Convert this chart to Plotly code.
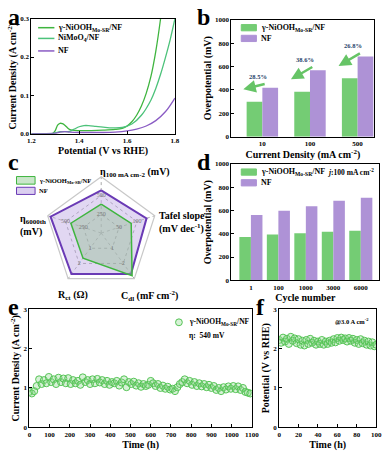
import plotly.graph_objects as go

# ---- panel a: LSV curves ----
lsv_gamma_x = [1.20, 1.25, 1.29, 1.30, 1.31, 1.32, 1.33, 1.34, 1.35, 1.36, 1.37, 1.40, 1.45, 1.50,
               1.55, 1.58, 1.60, 1.62, 1.64, 1.66, 1.68, 1.70, 1.71, 1.72, 1.73, 1.74]
lsv_gamma_y = [0.000, 0.000, 0.001, 0.008, 0.022, 0.027, 0.026, 0.022, 0.016, 0.011, 0.009, 0.008, 0.008, 0.009,
               0.011, 0.014, 0.020, 0.031, 0.048, 0.072, 0.105, 0.150, 0.180, 0.215, 0.255, 0.300]
lsv_nimo_x = [1.20, 1.28, 1.30, 1.32, 1.34, 1.36, 1.38, 1.40, 1.42, 1.44, 1.47, 1.50, 1.54, 1.58,
              1.62, 1.66, 1.70, 1.72, 1.74, 1.76, 1.78, 1.80]
lsv_nimo_y = [0.000, 0.000, 0.002, 0.005, 0.005, 0.006, 0.012, 0.018, 0.021, 0.021, 0.019, 0.017, 0.015, 0.016,
              0.025, 0.048, 0.088, 0.118, 0.155, 0.198, 0.245, 0.300]
lsv_nf_x = [1.20, 1.30, 1.32, 1.34, 1.36, 1.40, 1.45, 1.50, 1.55, 1.60, 1.64, 1.68, 1.72, 1.76, 1.80]
lsv_nf_y = [0.000, 0.001, 0.004, 0.005, 0.004, 0.003, 0.003, 0.003, 0.004, 0.007, 0.012, 0.020, 0.034, 0.057, 0.093]

# ---- panel b: overpotential at current densities ----
b_cats = ["10", "100", "500"]
b_gamma = [300, 385, 500]
b_nf = [418, 568, 685]
b_pct = ["28.5%", "38.6%", "26.8%"]

# ---- panel c: radar ----
radar_axes = ["η100", "Tafel", "Cdl", "Rct", "η6000"]
radar_labels = ["η<sub>100 mA cm-2</sub> (mV)", "Tafel slope<br>(mV dec<sup>-1</sup>)",
                "C<sub>dl</sub> (mF cm<sup>-2</sup>)", "R<sub>ct</sub> (Ω)", "η<sub>6000th</sub><br>(mV)"]
radar_max = [750, 150, 3, 3, 750]
radar_gamma = [385, 84, 2.8, 1.65, 425]
radar_nf = [570, 127, 2.7, 2.7, 710]
radar_ticks = [[250, 500], [50, 100], [1, 2], [1, 2], [250, 500]]

# ---- panel d: overpotential vs cycle ----
d_cats = ["1", "100", "1000", "3000", "6000"]
d_gamma = [372, 393, 405, 418, 425]
d_nf = [562, 597, 637, 685, 710]

# ---- panel e: chronoamperometry ----
e_time = [0, 12, 24, 36, 48, 60, 72, 84, 96, 108, 120, 132, 144, 156, 168, 180, 192, 204, 216, 228,
          240, 252, 264, 276, 288, 300, 312, 324, 336, 348, 360, 372, 384, 396, 408, 420, 432, 444,
          456, 468, 480, 492, 504, 516, 528, 540, 552, 564, 576, 588, 600, 612, 624, 636, 648, 660,
          672, 684, 696, 708, 720, 732, 744, 756, 768, 780, 792, 804, 816, 828, 840, 852, 864, 876,
          888, 900, 912, 924, 936, 948, 960, 972, 984, 996, 1008, 1020, 1032, 1044, 1056, 1068, 1080, 1092]
e_current = [0.90, 0.86, 0.92, 1.05, 1.22, 1.10, 1.20, 1.12, 1.28, 1.15, 1.22, 1.10, 1.26, 1.15, 1.24,
             1.12, 1.25, 1.10, 1.20, 1.12, 1.18, 1.08, 1.27, 1.15, 1.20, 1.10, 1.22, 1.12, 1.23, 1.14,
             1.20, 1.10, 1.18, 1.08, 1.15, 1.12, 1.18, 1.06, 1.14, 1.22, 1.02, 1.15, 1.10, 1.16, 1.06,
             1.12, 1.03, 1.10, 1.05, 1.08, 1.18, 1.12, 1.05, 1.10, 1.00, 1.06, 0.98, 1.03, 0.96, 0.98,
             0.92, 1.02, 1.10, 1.15, 1.22, 1.12, 1.18, 1.08, 1.15, 1.05, 1.12, 1.04, 1.10, 1.02, 1.08,
             1.00, 1.05, 0.95, 1.00, 0.92, 1.02, 0.96, 1.04, 0.98, 1.05, 0.97, 1.04, 0.95, 1.00, 0.90,
             0.88, 0.86]

# ---- panel f: chronopotentiometry ----
f_time = [0, 2, 4, 6, 8, 10, 12, 14, 16, 18, 20, 22, 24, 26, 28, 30, 32, 34, 36, 38, 40, 42, 44, 46,
          48, 50, 52, 54, 56, 58, 60, 62, 64, 66, 68, 70, 72, 74, 76, 78, 80, 82, 84, 86, 88, 90, 92,
          94, 96, 98, 100]
f_potential = [2.22, 2.15, 2.28, 2.18, 2.25, 2.12, 2.30, 2.20, 2.26, 2.14, 2.24, 2.10, 2.20, 2.08, 2.22,
               2.12, 2.25, 2.15, 2.20, 2.10, 2.18, 2.12, 2.22, 2.10, 2.18, 2.12, 2.20, 2.15, 2.24, 2.16,
               2.27, 2.20, 2.28, 2.22, 2.26, 2.18, 2.27, 2.20, 2.25, 2.15, 2.22, 2.12, 2.24, 2.14, 2.20,
               2.10, 2.18, 2.08, 2.16, 2.06, 2.10]

GREEN = "#3fb53f"
GREEN2 = "#4cc27a"
PURPLE = "#8a5cc4"
BAR_GREEN = "#74cc74"
BAR_PURPLE = "#ae92d6"
MARK_FILL = "rgba(140,215,140,0.35)"
MARK_LINE = "#55c455"
FONT = "Liberation Serif"
gamma_name = "γ-NiOOH<sub>Mo-SR</sub>/NF"

fig = go.Figure()

# a
for xs, ys, col, nm in [(lsv_gamma_x, lsv_gamma_y, GREEN, gamma_name),
                        (lsv_nimo_x, lsv_nimo_y, GREEN2, "NiMoO<sub>4</sub>/NF"),
                        (lsv_nf_x, lsv_nf_y, PURPLE, "NF")]:
    fig.add_trace(go.Scatter(x=xs, y=ys, mode="lines", line=dict(color=col, width=1.3, shape="spline"),
                             name=nm, showlegend=False, xaxis="x", yaxis="y"))

# b
fig.add_trace(go.Bar(x=b_cats, y=b_gamma, width=0.33, offset=-0.33, marker=dict(color=BAR_GREEN, line=dict(width=0)),
                     name=gamma_name, showlegend=False, xaxis="x2", yaxis="y2"))
fig.add_trace(go.Bar(x=b_cats, y=b_nf, width=0.33, offset=0, marker=dict(color=BAR_PURPLE, line=dict(width=0)),
                     name="NF", showlegend=False, xaxis="x2", yaxis="y2"))

# c radar
r_nf = [v / m for v, m in zip(radar_nf, radar_max)]
r_gamma = [v / m for v, m in zip(radar_gamma, radar_max)]
fig.add_trace(go.Scatterpolar(r=r_nf + r_nf[:1], theta=radar_axes + radar_axes[:1], fill="toself", mode="lines",
                              fillcolor="rgba(195,175,230,0.5)", line=dict(color="#6a3ab5", width=2),
                              name="NF", showlegend=False))
fig.add_trace(go.Scatterpolar(r=r_gamma + r_gamma[:1], theta=radar_axes + radar_axes[:1], fill="toself", mode="lines",
                              fillcolor="rgba(150,190,150,0.45)", line=dict(color=GREEN, width=1.5),
                              name=gamma_name, showlegend=False))
tick_r, tick_t, tick_s = [], [], []
for ax_name, ticks, m in zip(radar_axes, radar_ticks, radar_max):
    for t in ticks:
        tick_r.append(t / m)
        tick_t.append(ax_name)
        tick_s.append(str(t))
fig.add_trace(go.Scatterpolar(r=tick_r, theta=tick_t, mode="text", text=tick_s,
                              textfont=dict(size=6, color="#777", weight="normal"), showlegend=False))

# d
fig.add_trace(go.Bar(x=d_cats, y=d_gamma, width=0.42, offset=-0.42, marker=dict(color=BAR_GREEN, line=dict(width=0)),
                     name=gamma_name, showlegend=False, xaxis="x3", yaxis="y3"))
fig.add_trace(go.Bar(x=d_cats, y=d_nf, width=0.42, offset=0, marker=dict(color=BAR_PURPLE, line=dict(width=0)),
                     name="NF", showlegend=False, xaxis="x3", yaxis="y3"))

# e
fig.add_trace(go.Scatter(x=e_time, y=e_current, mode="markers",
                         marker=dict(size=7, color=MARK_FILL, line=dict(color=MARK_LINE, width=1)),
                         name=gamma_name, showlegend=False, xaxis="x4", yaxis="y4"))
# f
fig.add_trace(go.Scatter(x=f_time, y=f_potential, mode="markers",
                         marker=dict(size=7, color=MARK_FILL, line=dict(color=MARK_LINE, width=1)),
                         showlegend=False, xaxis="x5", yaxis="y5"))


def frame(**kw):
    d = dict(showline=True, linecolor="black", linewidth=1, mirror=True, ticks="inside", ticklen=3,
             tickcolor="black", showgrid=False, zeroline=False, tickfont=dict(size=7),
             title_font=dict(size=10), title_standoff=1)
    d.update(kw)
    return d


fig.update_layout(
    width=390, height=455, margin=dict(l=0, r=0, t=0, b=0),
    paper_bgcolor="white", plot_bgcolor="white", showlegend=False,
    font=dict(family=FONT, color="black", weight="bold"),
    xaxis=frame(domain=[0.072, 0.451], range=[1.2, 1.8], dtick=0.2, tickformat=".1f",
                title_text="Potential (V vs RHE)", anchor="y"),
    yaxis=frame(domain=[0.710, 0.967], range=[0, 0.3], dtick=0.1, tickformat=".1f",
                title_text="Current Density (A cm<sup>-2</sup>)", anchor="x"),
    xaxis2=frame(domain=[0.600, 0.977], type="category", range=[-0.65, 2.35], ticks="",
                 title_text="Current Density (mA cm<sup>-2</sup>)", anchor="y2"),
    yaxis2=frame(domain=[0.703, 0.965], range=[0, 1000], dtick=200,
                 title_text="Overpotential (mV)", anchor="x2"),
    xaxis3=frame(domain=[0.600, 0.990], type="category", range=[-0.71, 4.67], ticks="",
                 title_text="Cycle number", anchor="y3"),
    yaxis3=frame(domain=[0.382, 0.642], range=[0, 1000], dtick=200,
                 title_text="Overpotential (mV)", anchor="x3"),
    xaxis4=frame(domain=[0.067, 0.654], range=[0, 1100], dtick=100,
                 title_text="Time (h)", anchor="y4"),
    yaxis4=frame(domain=[0.053, 0.317], range=[0, 3], dtick=1,
                 title_text="Current Density (A cm<sup>-2</sup>)", anchor="x4"),
    xaxis5=frame(domain=[0.726, 0.982], range=[0, 100], dtick=20,
                 title_text="Time (h)", anchor="y5"),
    yaxis5=frame(domain=[0.053, 0.317], range=[0, 3], dtick=1,
                 title_text="Potential (V vs RHE)", anchor="x5"),
    polar=dict(
        domain=dict(x=[0.108, 0.405], y=[0.360, 0.615]),
        gridshape="linear", bgcolor="white",
        radialaxis=dict(range=[0, 1], tickvals=[1 / 3, 2 / 3, 1], showticklabels=False, showline=False,
                        ticks="", gridcolor="#999", griddash="dot", gridwidth=0.8),
        angularaxis=dict(rotation=90, direction="clockwise", showline=True, linecolor="#c8c8c8", linewidth=1.2,
                         gridcolor="#aaa", griddash="dot", ticks="", showticklabels=False),
    ),
)


def note(text, x, y, size=8, xanchor="left", color="black", align="left"):
    fig.add_annotation(text=text, x=x, y=y, xref="paper", yref="paper", xanchor=xanchor, yanchor="middle",
                       align=align, showarrow=False, font=dict(size=size, color=color))


def line_key(x0, x1, y, color):
    fig.add_shape(type="line", xref="paper", yref="paper", x0=x0, x1=x1, y0=y, y1=y,
                  line=dict(color=color, width=1.5))


def box_key(x0, x1, y0, y1, fill, edge):
    fig.add_shape(type="rect", xref="paper", yref="paper", x0=x0, x1=x1, y0=y0, y1=y1,
                  fillcolor=fill, line=dict(color=edge, width=1))


# legend a
for y, col, nm in [(0.947, GREEN, gamma_name), (0.923, GREEN2, "NiMoO<sub>4</sub>/NF"), (0.895, PURPLE, "NF")]:
    line_key(0.090, 0.133, y, col)
    note(nm, 0.138, y)

# legend b and d
for key_y in [0.947, 0.624]:
    box_key(0.626, 0.666, key_y - 0.007, key_y + 0.007, BAR_GREEN, BAR_GREEN)
    box_key(0.626, 0.666, key_y - 0.031, key_y - 0.017, BAR_PURPLE, BAR_PURPLE)
    note(gamma_name, 0.672, key_y)
    note("NF", 0.672, key_y - 0.024)

# legend c
box_key(0.033, 0.082, 0.597, 0.614, "rgba(150,205,150,0.5)", GREEN)
box_key(0.033, 0.082, 0.574, 0.590, "rgba(195,175,230,0.6)", "#6a3ab5")
note(gamma_name, 0.087, 0.605, size=6.5)
note("NF", 0.087, 0.582, size=6.5)

# radar axis labels
for txt, x, y in zip(radar_labels, [0.249, 0.403, 0.303, 0.136, 0.038], [0.622, 0.512, 0.347, 0.347, 0.505]):
    note(txt, x, y, size=10)

# legend e
fig.add_shape(type="circle", xref="paper", yref="paper", x0=0.4526, x1=0.4705, y0=0.2802, y1=0.2956,
              fillcolor=MARK_FILL, line=dict(color=MARK_LINE, width=1))
note(gamma_name, 0.482, 0.288, size=7.5)
note("η:  540 mV", 0.482, 0.259, size=7.5)

note("<i>j</i>:100 mA cm<sup>-2</sup>", 0.982, 0.624, size=7.5, xanchor="right")
note("@3.0 A cm<sup>-2</sup>", 0.969, 0.290, size=6.5, xanchor="right")

for lab, x, y in [("a", 0.005, 1.005), ("b", 0.505, 1.005), ("c", 0.005, 0.68),
                  ("d", 0.505, 0.68), ("e", 0.005, 0.355), ("f", 0.66, 0.355)]:
    fig.add_annotation(text=lab, x=x, y=y, xref="paper", yref="paper", xanchor="left", yanchor="top",
                       showarrow=False, font=dict(size=24, family=FONT, weight="bold"))

# percentage reductions with arrows in b
for i, (g, n, p) in enumerate(zip(b_gamma, b_nf, b_pct)):
    fig.add_annotation(x=i - 0.1, y=n + 95, xref="x2", yref="y2", text=p, showarrow=False,
                       font=dict(size=6.5, color="#1f3f6a"))
    fig.add_annotation(x=i - 0.4, y=g + 105, ax=i + 0.08, ay=n + 35, xref="x2", yref="y2", axref="x2", ayref="y2",
                       text="", showarrow=True, arrowhead=2, arrowsize=1, arrowwidth=2.5, arrowcolor="#66c466")

# the page has a default body margin; drop it so the figure sits at the window's corner
fig.write_html("out.html", config={"displayModeBar": False},
               post_script="document.body.style.margin='0';")
